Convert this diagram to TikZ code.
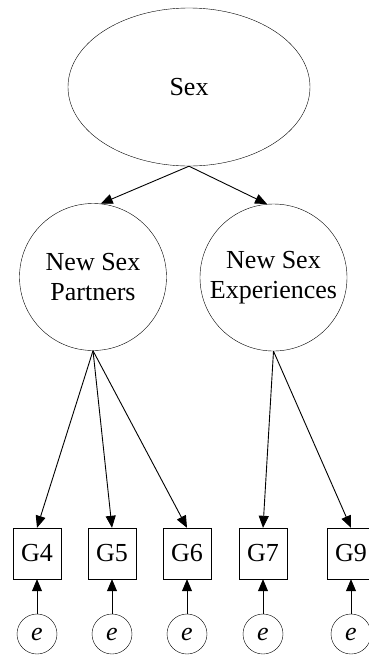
\documentclass[tikz,border=0pt]{standalone}
\usepackage{fontspec}
\setmainfont{Liberation Serif}
\usetikzlibrary{arrows.meta,positioning,shapes.geometric}

\begin{document}
\begin{tikzpicture}[x=1pt,y=-1pt,
    every node/.style={font=\fontsize{26}{30}\selectfont},
    latent/.style={draw,circle,minimum size=147pt,inner sep=0pt,align=center},
    obs/.style={draw,rectangle,minimum width=48pt,minimum height=51pt,inner sep=0pt},
    err/.style={draw,circle,minimum size=40pt,inner sep=0pt},
    arrowline/.style={-{Triangle[length=12pt,width=10pt]},line width=0.9pt}]
    \clip (0,0) rectangle (369,657);
    \node[draw,ellipse,minimum width=242pt,minimum height=158pt,inner sep=0pt] (sex) at (189,87) {Sex};
    \node[latent] (partners) at (93,277) {New Sex\\Partners};
    \node[latent] (exper) at (273.5,277.5) {New Sex\\Experiences};
    \foreach \g/\u in {4/37,5/112,6/187,7/263,9/351}{
        \node[obs] (g\g) at (\u,553.5) {G\g};
        \node[err] (e\g) at (\u,634) {\textit{e}};
        \draw[arrowline] (e\g) -- (g\g);}
    % paths from the factors
    \draw[arrowline] (sex.south) -- (partners.84);
    \draw[arrowline] (sex.south) -- (exper.95);
    \foreach \g in {4,5,6}
        \draw[arrowline] (partners.south) -- (g\g.north);
    \foreach \g in {7,9}
        \draw[arrowline] (exper.south) -- (g\g.north);
\end{tikzpicture}
\end{document}
